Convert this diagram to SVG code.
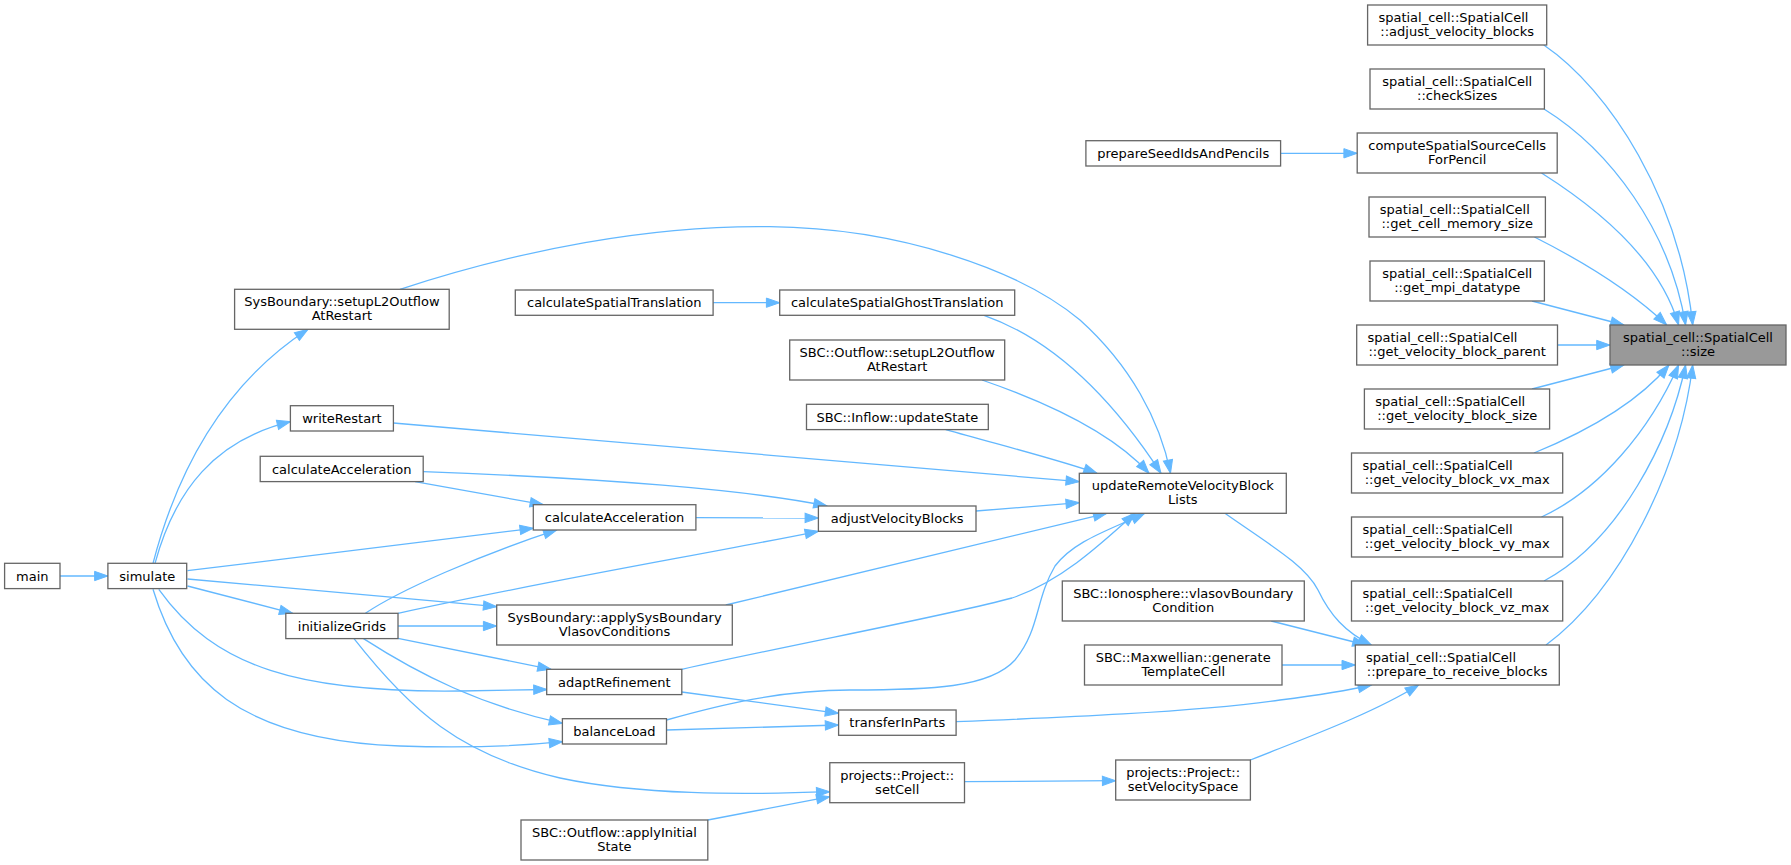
<svg xmlns="http://www.w3.org/2000/svg" width="1791" height="865" viewBox="0 0 1791 865">
<style>
.node rect{fill:#ffffff;stroke:#666666;stroke-width:1.3}
.target rect{fill:#999999;stroke:#666666;stroke-width:1.3}
text{font-family:"DejaVu Sans","Liberation Sans",sans-serif;font-size:13px;fill:#000000}
.c{text-anchor:middle}
.l{text-anchor:start}
.edges path{fill:none;stroke:#63b8ff;stroke-width:1.3;marker-end:url(#ah)}
</style>
<defs>
<marker id="ah" markerUnits="userSpaceOnUse" markerWidth="16" markerHeight="12" refX="13.3" refY="4.65" orient="auto" overflow="visible">
<path d="M0,0 L13.3,4.65 L0,9.3 Z" fill="#63b8ff" stroke="#63b8ff" stroke-width="1"/>
</marker>
</defs>
<rect width="1791" height="865" fill="#ffffff"/>
<g class="edges">
<path d="M60,576 L107.9,576"/>
<path d="M153,563.3 C180,460 230,380 308,329.3"/>
<path d="M155,563.3 C175,490 215,440 290.4,421.7"/>
<path d="M187.5,570.7 L533.3,528.3"/>
<path d="M187.5,579 L496.7,606.7"/>
<path d="M187.5,586 L292.7,613.3"/>
<path d="M158.8,589.3 C215,668 300,693 460,691 L547,689.5"/>
<path d="M153,589.3 C180,680 240,740 400,746 C470,748.5 520,746 562.5,741.7"/>
<path d="M365.4,613.3 C400,590 480,555 556.8,529.9"/>
<path d="M398,613.3 C550,580 700,555 818.4,531.3"/>
<path d="M398,626 L496.7,626"/>
<path d="M398,638.3 L551,669.3"/>
<path d="M363.5,638.6 C420,675 480,705 562.5,723.3"/>
<path d="M354,638.6 C410,710 460,755 560,778 C640,795 740,795 829.8,791.7"/>
<path d="M415,481.6 L543.4,504.7"/>
<path d="M423.2,471.7 C600,478 750,490 827,506"/>
<path d="M695.9,517.7 L818.4,518"/>
<path d="M976,511 L1079.3,502.7"/>
<path d="M393.4,423 L1079.3,481.7"/>
<path d="M725.8,605 L1106.7,513.3"/>
<path d="M681.8,669.3 C800,643 950,615 1012,598 C1060,582 1100,545 1135,513.3"/>
<path d="M666.5,720 C720,705 780,690 850,690 C930,690 990,688 1015,660 C1040,630 1035,600 1055,566 C1075,540 1110,530 1144.5,513.3"/>
<path d="M400,289.3 C520,250 650,225 770,226.7 C900,228 1020,270 1080,320 C1130,365 1160,420 1170.5,473.3"/>
<path d="M984,315.3 C1040,335 1100,380 1161,473.3"/>
<path d="M982,380 C1040,400 1110,430 1149,473.3"/>
<path d="M945.8,429.6 C1000,445 1060,460 1097,473.3"/>
<path d="M713.1,302.7 L779.7,302.7"/>
<path d="M1280.6,153.3 L1357.2,153.3"/>
<path d="M1224.9,513.3 C1270,545 1305,565 1318,590 C1330,615 1345,632 1371.4,645"/>
<path d="M1271.2,621 L1366,645"/>
<path d="M1282,665 L1355.3,665"/>
<path d="M956.1,721.7 C1050,718 1200,712 1280,700 C1320,695 1350,690 1371.4,685"/>
<path d="M1250.4,760 C1300,740 1370,715 1418.6,685"/>
<path d="M964.5,781.7 L1115.7,780.7"/>
<path d="M707.8,820 L829.8,796.7"/>
<path d="M681.8,692 L838.6,713.3"/>
<path d="M666.5,730 L838.6,725"/>
<path d="M1543.8,45 C1610,90 1680,200 1692.7,325"/>
<path d="M1544,109 C1610,150 1670,230 1685.6,325"/>
<path d="M1541.5,173 C1600,210 1660,260 1678.6,325"/>
<path d="M1534.4,237 C1580,260 1630,290 1666.7,325"/>
<path d="M1532,301 L1624,325"/>
<path d="M1557.5,345 L1610,345"/>
<path d="M1532,389 L1624,365"/>
<path d="M1534,453 C1590,430 1640,400 1669,365"/>
<path d="M1541.5,517 C1600,490 1650,430 1678.6,365"/>
<path d="M1544,581 C1620,540 1670,440 1685.6,365"/>
<path d="M1546,645 C1620,590 1680,470 1692.7,365"/>
</g>
<g id="n_size" class="target"><rect x="1610" y="325" width="176" height="40"/><text class="c" x="1698" y="342">spatial_cell::SpatialCell</text><text class="c" x="1698" y="356">::size</text></g>
<g id="n_adj" class="node"><rect x="1367.6" y="5" width="179.1" height="40"/><text class="l" x="1378.4" y="22">spatial_cell::SpatialCell</text><text class="c" x="1457.2" y="36">::adjust_velocity_blocks</text></g>
<g id="n_check" class="node"><rect x="1370" y="69" width="174.4" height="40"/><text class="c" x="1457.2" y="86">spatial_cell::SpatialCell</text><text class="c" x="1457.2" y="100">::checkSizes</text></g>
<g id="n_compute" class="node"><rect x="1357.2" y="133" width="200" height="40"/><text class="c" x="1457.2" y="150">computeSpatialSourceCells</text><text class="c" x="1457.2" y="164">ForPencil</text></g>
<g id="n_mem" class="node"><rect x="1369" y="197" width="176.4" height="40"/><text class="l" x="1379.8" y="214">spatial_cell::SpatialCell</text><text class="c" x="1457.2" y="228">::get_cell_memory_size</text></g>
<g id="n_mpi" class="node"><rect x="1370" y="261" width="174.4" height="40"/><text class="c" x="1457.2" y="278">spatial_cell::SpatialCell</text><text class="c" x="1457.2" y="292">::get_mpi_datatype</text></g>
<g id="n_parent" class="node"><rect x="1356.7" y="325" width="200.8" height="40"/><text class="l" x="1367.5" y="342">spatial_cell::SpatialCell</text><text class="c" x="1457.2" y="356">::get_velocity_block_parent</text></g>
<g id="n_bsize" class="node"><rect x="1364.4" y="389" width="185.2" height="40"/><text class="l" x="1375.2" y="406">spatial_cell::SpatialCell</text><text class="c" x="1457.2" y="420">::get_velocity_block_size</text></g>
<g id="n_vx" class="node"><rect x="1351.5" y="453" width="211.2" height="40"/><text class="l" x="1362.6" y="470">spatial_cell::SpatialCell</text><text class="c" x="1457.2" y="484">::get_velocity_block_vx_max</text></g>
<g id="n_vy" class="node"><rect x="1351.5" y="517" width="211.2" height="40"/><text class="l" x="1362.6" y="534">spatial_cell::SpatialCell</text><text class="c" x="1457.2" y="548">::get_velocity_block_vy_max</text></g>
<g id="n_vz" class="node"><rect x="1351.5" y="581" width="211.2" height="40"/><text class="l" x="1362.6" y="598">spatial_cell::SpatialCell</text><text class="c" x="1457.2" y="612">::get_velocity_block_vz_max</text></g>
<g id="n_prep" class="node"><rect x="1355.3" y="645" width="204" height="40"/><text class="l" x="1366.1" y="662">spatial_cell::SpatialCell</text><text class="c" x="1457.2" y="676">::prepare_to_receive_blocks</text></g>
<g id="n_seed" class="node"><rect x="1085.9" y="140.7" width="194.7" height="25.3"/><text class="c" x="1183.2" y="158">prepareSeedIdsAndPencils</text></g>
<g id="n_update" class="node"><rect x="1079.3" y="473.3" width="207" height="40"/><text class="c" x="1182.8" y="490.3">updateRemoteVelocityBlock</text><text class="c" x="1182.8" y="504.3">Lists</text></g>
<g id="n_iono" class="node"><rect x="1062.3" y="581" width="242" height="40"/><text class="c" x="1183.2" y="598">SBC::Ionosphere::vlasovBoundary</text><text class="c" x="1183.2" y="612">Condition</text></g>
<g id="n_maxw" class="node"><rect x="1084.5" y="645" width="197.5" height="40"/><text class="c" x="1183.2" y="662">SBC::Maxwellian::generate</text><text class="c" x="1183.2" y="676">TemplateCell</text></g>
<g id="n_setvel" class="node"><rect x="1115.7" y="760" width="134.7" height="40"/><text class="c" x="1183.1" y="777">projects::Project::</text><text class="c" x="1183.1" y="791">setVelocitySpace</text></g>
<g id="n_ghost" class="node"><rect x="779.7" y="290" width="235" height="25.3"/><text class="c" x="897.2" y="307.3">calculateSpatialGhostTranslation</text></g>
<g id="n_outL2" class="node"><rect x="789.7" y="340" width="215" height="40"/><text class="c" x="897.2" y="357">SBC::Outflow::setupL2Outflow</text><text class="c" x="897.2" y="371">AtRestart</text></g>
<g id="n_inflow" class="node"><rect x="806.5" y="404.3" width="181.8" height="25.3"/><text class="c" x="897.4" y="421.6">SBC::Inflow::updateState</text></g>
<g id="n_adjvel" class="node"><rect x="818.4" y="506" width="157.6" height="25.3"/><text class="c" x="897.2" y="523.3">adjustVelocityBlocks</text></g>
<g id="n_transfer" class="node"><rect x="838.6" y="710" width="117.5" height="25.3"/><text class="c" x="897.3" y="727.3">transferInParts</text></g>
<g id="n_setcell" class="node"><rect x="829.8" y="762.7" width="134.7" height="40"/><text class="c" x="897.2" y="779.7">projects::Project::</text><text class="c" x="897.2" y="793.7">setCell</text></g>
<g id="n_spatrans" class="node"><rect x="515.3" y="290" width="197.8" height="25.3"/><text class="c" x="614.2" y="307.3">calculateSpatialTranslation</text></g>
<g id="n_acc2" class="node"><rect x="533.3" y="504.7" width="162.6" height="25.3"/><text class="c" x="614.6" y="522">calculateAcceleration</text></g>
<g id="n_applysys" class="node"><rect x="496.7" y="605" width="235.6" height="40"/><text class="c" x="614.5" y="622">SysBoundary::applySysBoundary</text><text class="c" x="614.5" y="636">VlasovConditions</text></g>
<g id="n_adapt" class="node"><rect x="546.7" y="669.3" width="135.1" height="25.3"/><text class="c" x="614.3" y="686.6">adaptRefinement</text></g>
<g id="n_balance" class="node"><rect x="562.4" y="718.7" width="104.1" height="25.3"/><text class="c" x="614.4" y="736">balanceLoad</text></g>
<g id="n_applyinit" class="node"><rect x="521" y="820" width="186.8" height="40"/><text class="c" x="614.4" y="837">SBC::Outflow::applyInitial</text><text class="c" x="614.4" y="851">State</text></g>
<g id="n_sbL2" class="node"><rect x="234.6" y="289.3" width="214.6" height="40"/><text class="c" x="341.9" y="306.3">SysBoundary::setupL2Outflow</text><text class="c" x="341.9" y="320.3">AtRestart</text></g>
<g id="n_write" class="node"><rect x="290.4" y="405.7" width="103" height="25.3"/><text class="c" x="341.9" y="423">writeRestart</text></g>
<g id="n_acc1" class="node"><rect x="260.2" y="456.3" width="163" height="25.3"/><text class="c" x="341.7" y="473.6">calculateAcceleration</text></g>
<g id="n_init" class="node"><rect x="285.8" y="613.3" width="112.2" height="25.3"/><text class="c" x="341.9" y="630.6">initializeGrids</text></g>
<g id="n_sim" class="node"><rect x="107.9" y="563.3" width="78.8" height="25.3"/><text class="c" x="147.3" y="580.6">simulate</text></g>
<g id="n_main" class="node"><rect x="4.6" y="563.3" width="55.4" height="25.3"/><text class="c" x="32.3" y="580.6">main</text></g>
</svg>
